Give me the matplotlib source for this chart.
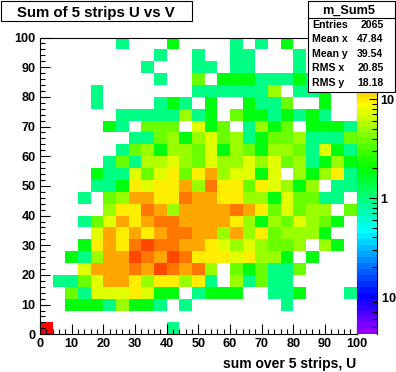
import numpy as np
import matplotlib
matplotlib.use('Agg')
import matplotlib.pyplot as plt
from matplotlib.colors import ListedColormap, LogNorm
from matplotlib.patches import Rectangle
from matplotlib.lines import Line2D
from matplotlib.ticker import MultipleLocator, LogLocator, NullFormatter
import colorsys

# ---------------- data ----------------
title = "Sum of 5 strips U vs V"
x_title = "sum over 5 strips, U"
stats_name = "m_Sum5"
stats_labels = ["Entries", "Mean x", "Mean y", "RMS x", "RMS y"]
stats_values = ["2065", "47.84", "39.54", "20.85", "18.18"]
bin_width = 4
x_range = [0, 100]
y_range = [0, 100]
z_range = [0.042, 42]
cbar_ticks = [0.1, 1, 10]
cbar_labels = [r"$\mathbf{10^{-1}}$", "1", "10"]

# counts per bin, rows from bottom (y=0-4) to top (y=96-100), 25 columns each (x=0-4 ... 96-100)
counts = [
    [40,0,0,0,0,0,0,0,0,0,1,0,0,0,0,0,0,0,0,0,0,0,0,0,0],
    [0,0,0,0,0,0,0,0,0,0,0,0,0,0,0,0,0,0,0,0,0,0,0,0,0],
    [0,0,2,2,2,1,5,2,2,1,0,1,0,0,0,0,0,0,0,1,0,0,0,0,0],
    [0,0,4,1,7,7,7,10,7,2,2,0,1,2,2,2,0,0,1,1,2,0,0,0,1],
    [0,1,1,4,7,15,15,10,5,10,10,5,10,1,0,5,1,4,1,1,0,0,0,0,0],
    [0,0,0,7,15,15,15,20,15,25,20,15,20,5,0,4,2,4,1,1,4,0,0,0,0],
    [0,0,2,1,5,15,15,25,20,15,25,20,10,10,10,7,10,5,5,2,0,2,0,0,0],
    [0,0,0,2,10,15,10,20,25,20,20,15,15,10,7,5,7,5,4,4,5,0,5,2,0],
    [0,0,0,0,7,15,10,15,10,15,20,20,15,15,5,15,5,10,4,5,5,5,2,0,0],
    [0,0,0,1,4,7,15,10,15,20,20,15,15,15,15,10,5,2,5,4,7,5,4,2,0],
    [0,0,0,0,0,5,10,10,20,15,5,15,15,15,15,20,15,10,4,7,4,5,5,0,4],
    [0,0,0,1,0,4,5,15,15,10,10,20,15,15,10,10,5,5,2,7,4,4,1,1,0],
    [0,0,0,0,1,1,2,10,7,10,10,15,5,20,10,10,4,10,7,5,2,5,0,1,1],
    [0,0,0,0,2,1,1,7,4,7,10,4,10,15,5,7,7,2,7,0,5,2,5,10,1],
    [0,0,0,0,0,1,4,1,6,6,7,5,4,7,5,5,7,5,7,4,5,1,2,5,2],
    [0,0,0,0,0,0,1,4,5,2,5,5,4,7,2,5,4,2,5,5,4,1,7,2,1],
    [0,0,0,0,0,0,0,1,1,4,5,2,5,7,4,5,1,2,4,4,5,1,1,1,4],
    [0,0,0,0,0,2,1,0,4,4,4,0,7,2,4,0,1,5,2,4,0,2,2,2,1],
    [0,0,0,0,0,0,1,1,1,1,1,5,1,2,0,4,2,2,1,2,1,2,1,0,0],
    [0,0,0,0,1,0,0,0,0,1,2,1,0,2,0,0,2,1,1,4,0,0,2,0,0],
    [0,0,0,0,1,0,0,0,0,0,0,0,1,1,1,1,1,1,5,0,1,1,2,0,0],
    [0,0,0,0,0,0,0,0,0,1,0,0,4,0,2,2,2,1,1,1,2,1,0,0,0],
    [0,0,0,0,0,0,0,0,1,0,0,0,1,1,0,1,1,0,0,0,1,0,0,0,0],
    [0,0,0,0,0,0,0,0,0,1,0,0,1,0,0,1,1,0,0,0,1,0,0,0,0],
    [0,0,0,0,0,0,1,0,0,0,2,0,0,0,0,1,0,1,0,2,0,0,0,0,0],
]

# ---------------- style ----------------
plt.rcParams['font.family'] = ['Liberation Sans', 'DejaVu Sans']
plt.rcParams['font.weight'] = 'bold'
plt.rcParams['mathtext.fontset'] = 'custom'
plt.rcParams['mathtext.bf'] = 'Liberation Sans:bold'
plt.rcParams['mathtext.rm'] = 'Liberation Sans:bold'

# ROOT "pretty palette": 50 HLS colours, violet -> red
pal = []
for i in range(50):
    h = 280.0 - (i + 1) * 280.0 / 50
    pal.append(colorsys.hls_to_rgb(h / 360.0, 0.5, 1.0))
cmap = ListedColormap(pal)

W, H = 396, 372
fig = plt.figure(figsize=(W / 100, H / 100), dpi=100)
fig.patch.set_facecolor('white')

def fx(px):
    return px / W

def fy(py):
    return 1 - py / H

L, R, T, B = 40, 356.5, 37.5, 334.3
ax = fig.add_axes([fx(L), fy(B), fx(R) - fx(L), fy(T) - fy(B)])

Z = np.ma.masked_equal(np.array(counts, dtype=float), 0)
xe = np.arange(x_range[0], x_range[1] + bin_width, bin_width)
ye = np.arange(y_range[0], y_range[1] + bin_width, bin_width)
norm = LogNorm(vmin=z_range[0], vmax=z_range[1])
mesh = ax.pcolormesh(xe, ye, Z, cmap=cmap, norm=norm, edgecolors='none',
                     antialiased=False, linewidth=0)
ax.set_xlim(*x_range)
ax.set_ylim(*y_range)
ax.xaxis.set_major_locator(MultipleLocator(10))
ax.xaxis.set_minor_locator(MultipleLocator(2))
ax.yaxis.set_major_locator(MultipleLocator(10))
ax.yaxis.set_minor_locator(MultipleLocator(2))
ax.tick_params(which='both', direction='in', top=False, right=False,
               width=0.8, labelsize=9.1, colors='black')
ax.tick_params(which='major', length=7)
ax.tick_params(which='minor', length=3.6)
ax.tick_params(axis='x', pad=2.5)
ax.tick_params(axis='y', pad=3)
for lab in ax.get_xticklabels() + ax.get_yticklabels():
    lab.set_fontweight('bold')
for s in ax.spines.values():
    s.set_linewidth(0.8)

# colour palette axis
cax = fig.add_axes([fx(R), fy(B), fx(376.5) - fx(R), fy(T) - fy(B)])
cb = fig.colorbar(mesh, cax=cax)
cb.outline.set_visible(False)
cb.set_ticks(cbar_ticks, labels=cbar_labels)
cax.yaxis.set_minor_locator(LogLocator(base=10, subs=np.arange(2, 10)))
cax.yaxis.set_minor_formatter(NullFormatter())
cax.yaxis.set_ticks_position('right')
cax.tick_params(which='both', direction='in', width=0.8, labelsize=9.1, pad=3)
cax.tick_params(which='major', length=6)
cax.tick_params(which='minor', length=3.6)
for lab in cax.get_yticklabels():
    lab.set_fontweight('bold')
cax.add_line(Line2D([1, 1], [0, 1], transform=cax.transAxes, color='black',
                    lw=0.8, clip_on=False))

# title box
fig.add_artist(Rectangle((fx(1), fy(20.7)), fx(191.7) - fx(1), fy(1) - fy(20.7),
                         transform=fig.transFigure, facecolor='white',
                         edgecolor='black', lw=0.8, zorder=5))
fig.text(fx(96), fy(16.7), title, ha='center', va='baseline', fontsize=10.8,
         fontweight='bold', zorder=6)

# stats box
sL, sR, sT, sB = 308.3, 394.5, 1, 91.7
fig.add_artist(Rectangle((fx(sL), fy(sB)), fx(sR) - fx(sL), fy(sT) - fy(sB),
                         transform=fig.transFigure, facecolor='white',
                         edgecolor='black', lw=0.8, zorder=5))
fig.add_artist(Line2D([fx(sL), fx(sR)], [fy(18.3), fy(18.3)],
                      transform=fig.transFigure, color='black', lw=0.8, zorder=6))
fig.text(fx(348.5), fy(14.2), stats_name, ha='center', va='baseline',
         fontsize=9.2, fontweight='bold', zorder=6)
for i, (lab, val) in enumerate(zip(stats_labels, stats_values)):
    yb = 27.5 + i * 14.6
    fig.text(fx(312.3), fy(yb), lab, ha='left', va='baseline', fontsize=7.6,
             fontweight='bold', zorder=6)
    fig.text(fx(383.5), fy(yb), val, ha='right', va='baseline', fontsize=7.6,
             fontweight='bold', zorder=6)

# x-axis title
fig.text(fx(356), fy(367.7), x_title, ha='right', va='baseline', fontsize=10,
         fontweight='bold')

fig.savefig('out.png', dpi=100, facecolor='white')
